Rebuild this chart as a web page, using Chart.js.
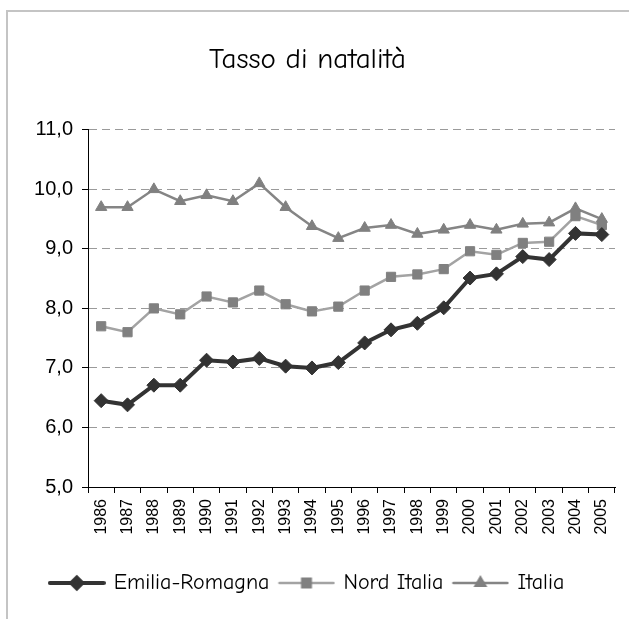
<!DOCTYPE html>
<html>
<head>
<meta charset="utf-8">
<script src="https://cdn.jsdelivr.net/npm/chart.js@4"></script>
<style>
  html, body { margin: 0; padding: 0; background: #fff; }
  #frame {
    position: absolute; left: 6px; top: 10px; width: 700px; height: 640px;
    border: 2px solid #c4c4c4; box-sizing: border-box;
  }
  #wrap { position: absolute; left: 0; top: 0; width: 629px; height: 619px; }
</style>
</head>
<body>
<div id="frame"></div>
<div id="wrap"><canvas id="chart"></canvas></div>
<script>
// Tasso di natalità (per 1000 abitanti)
const years = [
  "1986", "1987", "1988", "1989", "1990", "1991", "1992", "1993", "1994", "1995",
  "1996", "1997", "1998", "1999", "2000", "2001", "2002", "2003", "2004", "2005",
];
const emiliaRomagna = [
  6.45, 6.38, 6.71, 6.71, 7.13, 7.1, 7.16, 7.03, 7.0, 7.09,
  7.42, 7.64, 7.75, 8.01, 8.51, 8.58, 8.87, 8.82, 9.26, 9.24,
];
const nordItalia = [
  7.7, 7.6, 8.0, 7.9, 8.2, 8.1, 8.3, 8.07, 7.95, 8.03,
  8.3, 8.53, 8.57, 8.66, 8.96, 8.9, 9.1, 9.12, 9.55, 9.4,
];
const italia = [
  9.7, 9.7, 10.0, 9.8, 9.9, 9.8, 10.1, 9.7, 9.38, 9.18,
  9.35, 9.4, 9.25, 9.32, 9.4, 9.32, 9.42, 9.44, 9.68, 9.5,
];
const yMin = 5;
const yMax = 11;
const yStep = 1;

const comicFont = '"Comic Sans MS", "Comic Neue", "Open Sans", sans-serif';
const axisFont = '"Liberation Sans", Arial, sans-serif';

// small line + marker image for the legend
function legendSwatch(lineColor, lineWidth, markerColor, style, radius) {
  const c = document.createElement("canvas");
  c.width = 58;
  c.height = 18;
  const ctx = c.getContext("2d");
  ctx.strokeStyle = lineColor;
  ctx.lineWidth = lineWidth;
  ctx.lineCap = "round";
  ctx.beginPath();
  ctx.moveTo(2, 9);
  ctx.lineTo(56, 9);
  ctx.stroke();
  ctx.fillStyle = markerColor;
  ctx.strokeStyle = markerColor;
  Chart.helpers.drawPoint(ctx, { pointStyle: style, radius: radius, borderWidth: 1, rotation: 0 }, 29, 9);
  return c;
}

const swatches = [
  legendSwatch("#333333", 4, "#333333", "rectRot", 5.5),
  legendSwatch("#a3a3a3", 2.5, "#808080", "rect", 6),
  legendSwatch("#858585", 2.5, "#808080", "triangle", 5.5),
];

new Chart(document.getElementById("chart"), {
  type: "line",
  data: {
    labels: years,
    datasets: [
      {
        label: "Emilia-Romagna",
        data: emiliaRomagna,
        borderColor: "#333333",
        backgroundColor: "#333333",
        borderWidth: 4,
        pointStyle: "rectRot",
        pointRadius: 7,
        pointBorderWidth: 1,
        tension: 0,
        order: 1,
      },
      {
        label: "Nord Italia",
        data: nordItalia,
        borderColor: "#a3a3a3",
        backgroundColor: "#808080",
        pointBorderColor: "#808080",
        borderWidth: 2.5,
        pointStyle: "rect",
        pointRadius: 6.5,
        pointBorderWidth: 1,
        tension: 0,
        order: 2,
      },
      {
        label: "Italia",
        data: italia,
        borderColor: "#858585",
        backgroundColor: "#808080",
        pointBorderColor: "#808080",
        borderWidth: 2.5,
        pointStyle: "triangle",
        pointRadius: 6.5,
        pointBorderWidth: 1,
        tension: 0,
        order: 3,
      },
    ],
  },
  options: {
    responsive: true,
    maintainAspectRatio: false,
    animation: false,
    layout: {
      padding: { left: 0, right: 14, top: 0, bottom: 15 },
    },
    plugins: {
      title: {
        display: true,
        text: "Tasso di natalità",
        color: "#000",
        font: { family: comicFont, size: 29, weight: "normal", lineHeight: 1.2 },
        padding: { top: 42, bottom: 53 },
      },
      legend: {
        position: "bottom",
        labels: {
          color: "#000",
          font: { family: comicFont, size: 22 },
          usePointStyle: true,
          pointStyleWidth: 52,
          padding: 11,
          generateLabels: (chart) =>
            chart.data.datasets.map((ds, i) => ({
              text: ds.label,
              pointStyle: swatches[i],
              datasetIndex: i,
              hidden: false,
              lineWidth: 0,
            })),
        },
      },
      tooltip: { enabled: false },
    },
    scales: {
      x: {
        offset: true,
        grid: {
          display: true,
          drawOnChartArea: false,
          offset: true,
          tickLength: 6,
          tickColor: "#000",
        },
        border: { display: true, color: "#000", width: 1 },
        ticks: {
          color: "#000",
          font: { family: axisFont, size: 16 },
          minRotation: 90,
          maxRotation: 90,
          padding: 6,
          autoSkip: false,
        },
        afterFit: (scale) => {
          scale.height = 74;
        },
      },
      y: {
        min: yMin,
        max: yMax,
        grid: {
          color: "#9a9a9a",
          lineWidth: 1,
          tickColor: "#000",
          tickLength: 6,
          tickBorderDash: [],
        },
        border: { display: true, color: "#000", width: 1, dash: [8, 5] },
        ticks: {
          stepSize: yStep,
          color: "#000",
          font: { family: axisFont, size: 20 },
          padding: 9,
          callback: (v) => v.toFixed(1).replace(".", ","),
        },
        afterFit: (scale) => {
          scale.width = 88;
        },
      },
    },
  },
});
</script>
</body>
</html>
